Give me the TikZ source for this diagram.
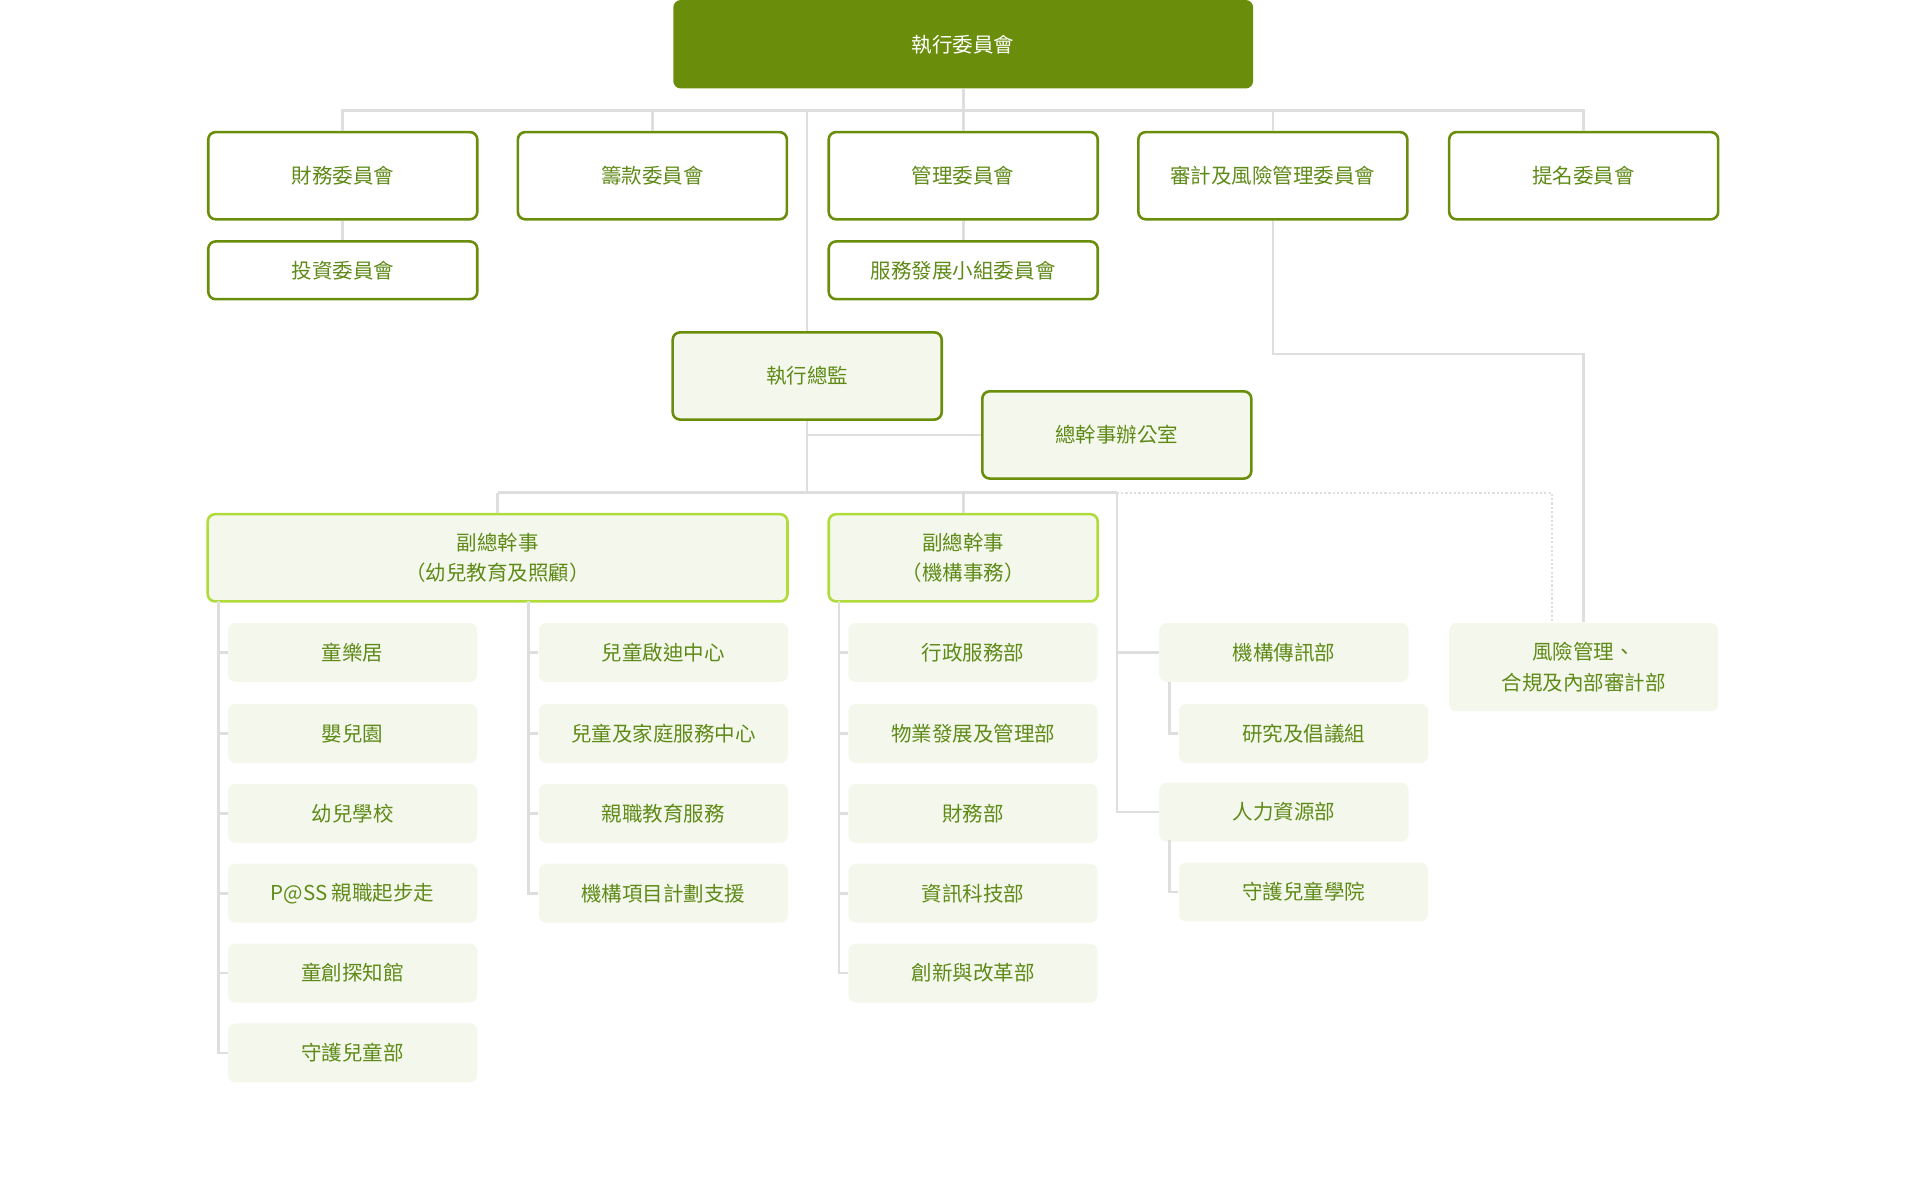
\documentclass[tikz,border=0pt]{standalone}
\usepackage{fontspec}
\setmainfont{Noto Sans CJK TC}
\definecolor{darkgrn}{HTML}{6A8E0C}
\definecolor{txtgrn}{HTML}{5F8A18}
\definecolor{lightfill}{HTML}{F4F8EC}
\definecolor{limeline}{HTML}{B0DC3A}
\definecolor{lineg}{HTML}{DEDEDE}
\begin{document}
\begin{tikzpicture}[x=0.02cm,y=-0.02cm,
  every node/.style={font=\fontsize{9.5}{14}\selectfont,text=txtgrn,align=center,inner sep=0pt},
  topbox/.style={fill=darkgrn,rounded corners=0.12cm,minimum width=9.44cm,minimum height=1.44cm,text=white},
  board/.style={draw=darkgrn,line width=1.2pt,fill=white,rounded corners=0.12cm,minimum width=4.38cm,minimum height=1.42cm},
  subboard/.style={board,minimum height=0.94cm},
  exec/.style={board,fill=lightfill},
  deputy/.style={draw=limeline,line width=1.2pt,fill=lightfill,rounded corners=0.12cm,minimum height=1.42cm},
  unit/.style={fill=lightfill,rounded corners=0.12cm,minimum width=4.06cm,minimum height=0.96cm},
  conn/.style={draw=lineg,line width=1.2pt},
  dotconn/.style={draw=lineg,line width=1pt,densely dotted}]
\useasboundingbox (0,0) rectangle (1566,968);

% committees
\node[topbox] (exco) at (784,36) {執行委員會};
\node[board] (fin) at (279,143) {財務委員會};
\node[board] (fund) at (531,143) {籌款委員會};
\node[board] (mgmt) at (784,143) {管理委員會};
\node[board] (audit) at (1036,143) {審計及風險管理委員會};
\node[board] (nom) at (1289,143) {提名委員會};
\node[subboard] (inv) at (279,220) {投資委員會};
\node[subboard] (svc) at (784,220) {服務發展小組委員會};

% executives
\node[exec] (ceo) at (657,306) {執行總監};
\node[exec] (sgo) at (909,354) {總幹事辦公室};
\node[deputy,minimum width=9.44cm] (dsgA) at (405,454) {副總幹事\\（幼兒教育及照顧）};
\node[deputy,minimum width=4.38cm] (dsgB) at (784,454) {副總幹事\\（機構事務）};
\node[unit,minimum width=4.38cm,minimum height=1.44cm] (risk) at (1289,543) {風險管理、\\合規及內部審計部};

% units
\foreach \name/\txt/\yy in {a1/童樂居/531,a2/嬰兒園/597,a3/幼兒學校/662,a4/P@SS 親職起步走/727,a5/童創探知館/792,a6/守護兒童部/857}
  \node[unit] (\name) at (287,\yy) {\txt};
\foreach \name/\txt/\yy in {b1/兒童啟迪中心/531,b2/兒童及家庭服務中心/597,b3/親職教育服務/662,b4/機構項目計劃支援/727}
  \node[unit] (\name) at (540,\yy) {\txt};
\foreach \name/\txt/\yy in {c1/行政服務部/531,c2/物業發展及管理部/597,c3/財務部/662,c4/資訊科技部/727,c5/創新與改革部/792}
  \node[unit] (\name) at (792,\yy) {\txt};
\node[unit] (d1) at (1045,531) {機構傳訊部};
\node[unit] (d2) at (1061,597) {研究及倡議組};
\node[unit] (d3) at (1045,661) {人力資源部};
\node[unit] (d4) at (1061,726) {守護兒童學院};

% connectors
\begin{scope}[on background layer/.try]
\coordinate (bus) at (784,90);
\draw[conn] (exco.south) -- (bus);
\draw[conn] (fin.north) |- (bus) -| (nom.north);
\foreach \n in {fund,mgmt,audit} \draw[conn] (\n.north) -- (\n.north |- bus);
\draw[conn] (fin) -- (inv);
\draw[conn] (mgmt) -- (svc);
\draw[conn] (ceo.north |- bus) -- (ceo.north);
\draw[conn] (audit.south) |- (1289,288) -- (risk.north);
\coordinate (dbus) at (657,401);
\draw[conn] (ceo.south) -- (dbus);
\draw[conn] (ceo.south |- sgo.west) -- (sgo.west);
\draw[conn] (dsgA.north |- dbus) -- (909,401);
\draw[conn] (dsgA.north |- dbus) -- (dsgA.north);
\draw[conn] (dsgB.north |- dbus) -- (dsgB.north);
\draw[dotconn] (909,401) -| (1263,507);
\draw[conn] (909,401) |- (d3.west);
\draw[conn] (909,531) -- (d1.west);
\draw[conn] (952,555) |- (d2.west);
\draw[conn] (952,684) |- (d4.west);
\draw[conn] (178,489) |- (a6.west);
\foreach \n in {a1,a2,a3,a4,a5} \draw[conn] (178,0 |- \n.west) -- (\n.west);
\draw[conn] (430,489) |- (b4.west);
\foreach \n in {b1,b2,b3} \draw[conn] (430,0 |- \n.west) -- (\n.west);
\draw[conn] (683,489) |- (c5.west);
\foreach \n in {c1,c2,c3,c4} \draw[conn] (683,0 |- \n.west) -- (\n.west);
\end{scope}
\end{tikzpicture}
\end{document}
